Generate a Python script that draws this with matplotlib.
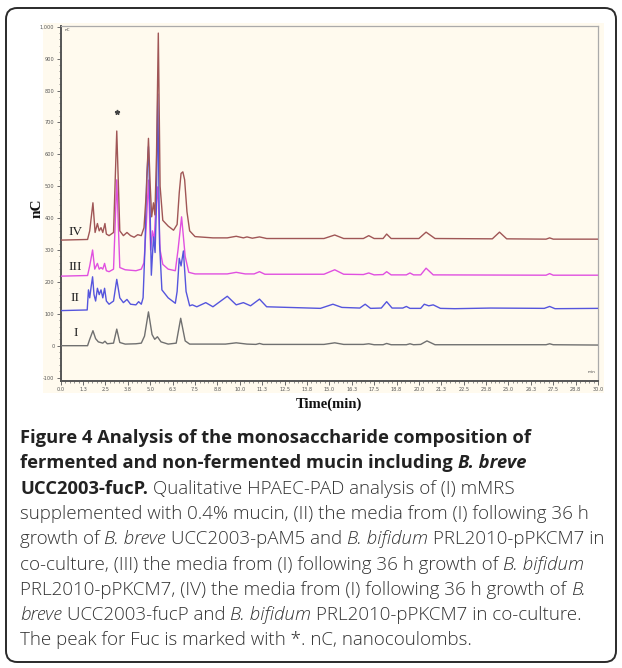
import matplotlib
matplotlib.use('Agg')
import matplotlib.pyplot as plt
from matplotlib.patches import FancyBboxPatch, Rectangle
from matplotlib.ticker import MultipleLocator, FixedLocator

# ---------------- data ----------------
t_I = [0.0, 1.50, 1.62, 1.80, 1.95, 2.10, 2.35, 2.47, 2.60, 2.95, 3.13, 3.30, 3.60, 4.20, 4.50,
       4.68, 4.90, 5.10, 5.25, 5.40, 5.60, 6.00, 6.45, 6.70, 6.95, 7.20, 9.20, 9.80, 10.40, 10.90,
       11.10, 11.30, 14.70, 15.30, 15.80, 16.90, 17.20, 17.50, 18.00, 18.20, 18.45, 19.30, 19.50,
       19.70, 20.10, 20.45, 20.90, 27.10, 27.30, 27.50, 30.0]
v_I = [0, 0, 20, 47, 22, 12, 8, 14, 6, 8, 52, 10, 5, 6, 8,
       30, 106, 35, 20, 28, 12, 5, 8, 86, 15, 5, 5, 9, 5, 4,
       7, 4, 4, 9, 4, 4, 6, 3, 3, 7, 3, 3, 6,
       3, 4, 15, 3, 3, 6, 3, 2]

t_II = [0.0, 1.48, 1.55, 1.62, 1.70, 1.78, 1.86, 1.95, 2.05, 2.15, 2.25, 2.35, 2.45, 2.55, 2.70,
        2.95, 3.13, 3.30, 3.50, 3.70, 3.90, 4.20, 4.35, 4.50, 4.60, 4.70, 4.80, 4.90, 5.00, 5.06,
        5.18, 5.27, 5.34, 5.42, 5.52, 5.65, 6.00, 6.40, 6.50, 6.62, 6.72, 6.85, 7.00, 7.20, 7.35,
        7.60, 8.10, 8.50, 9.30, 9.80, 10.20, 10.60, 11.10, 11.50, 14.50, 15.20, 15.70, 16.70, 17.00,
        17.30, 17.90, 18.20, 18.50, 19.10, 19.30, 19.50, 20.10, 20.30, 20.55, 20.80, 21.20, 22.00,
        24.00, 27.00, 27.30, 27.60, 30.0]
v_II = [110, 112, 175, 150, 185, 216, 160, 140, 180, 160, 175, 150, 180, 140, 130,
        140, 208, 150, 135, 145, 130, 128, 138, 130, 150, 300, 520, 624, 400, 221,
        341, 292, 430, 789, 320, 175, 150, 133, 170, 274, 250, 297, 170, 125, 128,
        122, 135, 122, 155, 128, 135, 125, 146, 122, 117, 130, 120, 118, 130,
        117, 118, 138, 118, 118, 123, 117, 117, 130, 125, 128, 117, 116,
        118, 117, 123, 116, 117]

t_III = [0.0, 1.50, 1.62, 1.78, 1.90, 2.05, 2.15, 2.25, 2.35, 2.45, 2.55, 2.70, 2.95, 3.13, 3.30,
         3.60, 4.20, 4.50, 4.65, 4.78, 4.90, 5.02, 5.12, 5.22, 5.30, 5.42, 5.55, 5.70, 6.00, 6.40,
         6.55, 6.75, 6.95, 7.15, 7.50, 9.30, 9.80, 10.30, 10.80, 11.10, 11.40, 14.70, 15.30, 15.80,
         16.90, 17.20, 17.50, 18.00, 18.20, 18.45, 19.30, 19.50, 19.70, 20.10, 20.40, 20.80, 27.10,
         27.30, 27.50, 30.0]
v_III = [218, 220, 250, 300, 240, 258, 240, 245, 240, 258, 235, 232, 240, 520, 245,
         238, 235, 240, 260, 380, 519, 300, 360, 330, 420, 498, 300, 255, 240, 235,
         300, 404, 280, 230, 225, 225, 230, 225, 225, 232, 224, 224, 238, 224,
         223, 228, 222, 223, 232, 222, 222, 228, 222, 222, 243, 222, 221,
         226, 221, 221]

t_IV = [0.0, 1.50, 1.62, 1.80, 1.92, 2.05, 2.15, 2.25, 2.35, 2.47, 2.55, 2.70, 2.95, 3.13, 3.30,
        3.50, 3.70, 3.90, 4.10, 4.30, 4.50, 4.65, 4.78, 4.90, 5.00, 5.08, 5.18, 5.26, 5.35, 5.45,
        5.55, 5.70, 6.00, 6.30, 6.50, 6.62, 6.72, 6.82, 6.92, 7.05, 7.20, 7.50, 8.50, 9.30, 9.80,
        10.20, 10.40, 10.70, 11.10, 11.50, 14.70, 15.30, 15.80, 16.90, 17.20, 17.50, 18.00, 18.20,
        18.45, 20.00, 20.40, 20.90, 24.10, 24.50, 24.90, 27.10, 27.30, 27.50, 30.0]
v_IV = [331, 333, 360, 448, 355, 383, 360, 370, 355, 383, 350, 345, 355, 673, 360,
        345, 355, 345, 340, 348, 345, 370, 480, 650, 500, 404, 448, 410, 600, 980,
        500, 393, 375, 362, 380, 480, 540, 545, 520, 420, 360, 342, 338, 338, 343,
        338, 341, 337, 341, 336, 336, 347, 336, 336, 345, 336, 336, 350,
        336, 336, 356, 336, 335, 356, 335, 334, 338, 334, 334]

trace_names = ["I", "II", "III", "IV"]
label_pos_t = [0.85, 0.80, 0.80, 0.85]
label_pos_v = [39, 149, 248, 357]
fuc_marker = (3.13, 733)

x_ticks = [0.0, 1.25, 2.5, 3.75, 5.0, 6.25, 7.5, 8.75, 10.0, 11.25, 12.5, 13.75, 15.0, 16.25,
           17.5, 18.75, 20.0, 21.25, 22.5, 23.75, 25.0, 26.25, 27.5, 28.75, 30.0]
x_tick_labels = ["0.0", "1.3", "2.5", "3.8", "5.0", "6.3", "7.5", "8.8", "10.0", "11.3", "12.5",
                 "13.8", "15.0", "16.3", "17.5", "18.8", "20.0", "21.3", "22.5", "23.8", "25.0",
                 "26.3", "27.5", "28.8", "30.0"]
y_ticks = [-100, 0, 100, 200, 300, 400, 500, 600, 700, 800, 900, 1000]
y_tick_labels = ["-100", "0", "100", "200", "300", "400", "500", "600", "700", "800", "900", "1,000"]

caption_lines = [
    [("Figure 4 Analysis of the monosaccharide composition of", "b")],
    [("fermented and non-fermented mucin including ", "b"), ("B. breve", "bi")],
    [("UCC2003-fucP.", "b"), (" Qualitative HPAEC-PAD analysis of (I) mMRS", "")],
    [("supplemented with 0.4% mucin, (II) the media from (I) following 36 h", "")],
    [("growth of ", ""), ("B. breve", "i"), (" UCC2003-pAM5 and ", ""), ("B. bifidum", "i"),
     (" PRL2010-pPKCM7 in", "")],
    [("co-culture, (III) the media from (I) following 36 h growth of ", ""), ("B. bifidum", "i")],
    [("PRL2010-pPKCM7, (IV) the media from (I) following 36 h growth of ", ""), ("B.", "i")],
    [("breve", "i"), (" UCC2003-fucP and ", ""), ("B. bifidum", "i"),
     (" PRL2010-pPKCM7 in co-culture.", "")],
    [("The peak for Fuc is marked with *. nC, nanocoulombs.", "")],
]

# ---------------- figure ----------------
W, H = 622, 668
fig = plt.figure(figsize=(W / 100, H / 100), dpi=100)
fig.patch.set_facecolor('white')


def fx(px):
    return px / W


def fy(py):
    return 1 - py / H


CREAM = '#fffaee'
border = FancyBboxPatch((fx(6), fy(662)), (616 - 6) / W, (662 - 8) / H,
                        boxstyle="round,pad=0,rounding_size=0.018",
                        transform=fig.transFigure, fill=False, ec='#2a2a2a', lw=1.4,
                        mutation_aspect=W / H)
fig.add_artist(border)
panel = Rectangle((fx(43), fy(393)), (604 - 43) / W, (393 - 23) / H, transform=fig.transFigure,
                  fc=CREAM, ec='none', zorder=0)
fig.add_artist(panel)

ax = fig.add_axes([fx(60.7), fy(381), (598 - 60.7) / W, (381 - 25.5) / H])
ax.set_facecolor(CREAM)
ax.set_xlim(0, 30)
ax.set_ylim(-110.7, 1003.8)

colors = ['#707070', '#5555dd', '#e050e0', '#a05656']
ax.plot(t_I, v_I, color=colors[0], lw=1.0, zorder=3)
ax.plot(t_III, v_III, color=colors[2], lw=1.0, zorder=4)
ax.plot(t_II, v_II, color=colors[1], lw=1.0, zorder=5)
ax.plot(t_IV, v_IV, color=colors[3], lw=1.0, zorder=6)

for name, tx, vy in zip(trace_names, label_pos_t, label_pos_v):
    ax.text(tx, vy, name, fontsize=9.5, family='Liberation Serif', ha='center', va='center',
            color='#222222')
ax.plot([fuc_marker[0]], [fuc_marker[1]], marker='*', ms=3.5, color='#444444', zorder=7)

ax.text(0.008, 0.993, "nC", transform=ax.transAxes, fontsize=3, ha='left', va='top', color='#444')
ax.text(0.995, 0.02, "min", transform=ax.transAxes, fontsize=3, ha='right', va='bottom', color='#444')

ax.xaxis.set_major_locator(FixedLocator(x_ticks))
ax.set_xticklabels(x_tick_labels)
ax.xaxis.set_minor_locator(MultipleLocator(0.25))
ax.yaxis.set_major_locator(FixedLocator(y_ticks))
ax.set_yticklabels(y_tick_labels)
ax.yaxis.set_minor_locator(MultipleLocator(20))
ax.tick_params(axis='both', which='major', labelsize=3.6, length=3, width=0.6, color='#555',
               labelcolor='#555', pad=1.5)
ax.tick_params(axis='both', which='minor', length=1.5, width=0.5, color='#666')

for side in ['left', 'bottom']:
    ax.spines[side].set_color('#555555')
    ax.spines[side].set_linewidth(1.4)
for side in ['top', 'right']:
    ax.spines[side].set_color('#aaaaaa')
    ax.spines[side].set_linewidth(0.9)

fig.text(fx(37), fy(208), "nC", rotation=90, fontsize=11, fontweight='bold',
         family='Liberation Serif', ha='center', va='center', color='#111')
fig.text(fx(329), fy(404), "Time(min)", fontsize=10.5, fontweight='bold',
         family='Liberation Serif', ha='center', va='center', color='#111')

# ---------------- caption ----------------
CAP_FONT = 'Open Sans'
REG_WEIGHT = 'light'
BOLD_SCALE = 0.98
renderer = fig.canvas.get_renderer()


def weight_of(style):
    return 'bold' if 'b' in style else REG_WEIGHT


def size_of(style, size):
    return size * BOLD_SCALE if 'b' in style else size


def seg_width(text, style, size):
    t = fig.text(0, 0, text, fontsize=size_of(style, size), family=CAP_FONT,
                 fontweight=weight_of(style),
                 fontstyle='italic' if 'i' in style else 'normal')
    w = t.get_window_extent(renderer).width
    t.remove()
    return w


def space_width(style, size):
    return seg_width("x x", style, size) - seg_width("xx", style, size)


def draw_line(segs, x0, y0, size, draw=True):
    x = x0
    for text, style in segs:
        lead = len(text) - len(text.lstrip(' '))
        trail = len(text) - len(text.rstrip(' '))
        sw = space_width(style, size)
        x += lead * sw
        core = text.strip(' ')
        if draw:
            fig.text(fx(x), fy(y0), core, fontsize=size_of(style, size), family=CAP_FONT,
                     fontweight=weight_of(style),
                     fontstyle='italic' if 'i' in style else 'normal',
                     color='#222222' if 'b' in style else '#333333',
                     ha='left', va='baseline')
        x += seg_width(core, style, size) + trail * sw
    return x - x0


ref = draw_line(caption_lines[4], 0, 0, 12, draw=False)
cap_size = 12 * (604 - 20) / ref
y0 = 443
spacing = 25.3
for i, line in enumerate(caption_lines):
    draw_line(line, 20, y0 + i * spacing, cap_size)

fig.savefig('out.png', dpi=100)
